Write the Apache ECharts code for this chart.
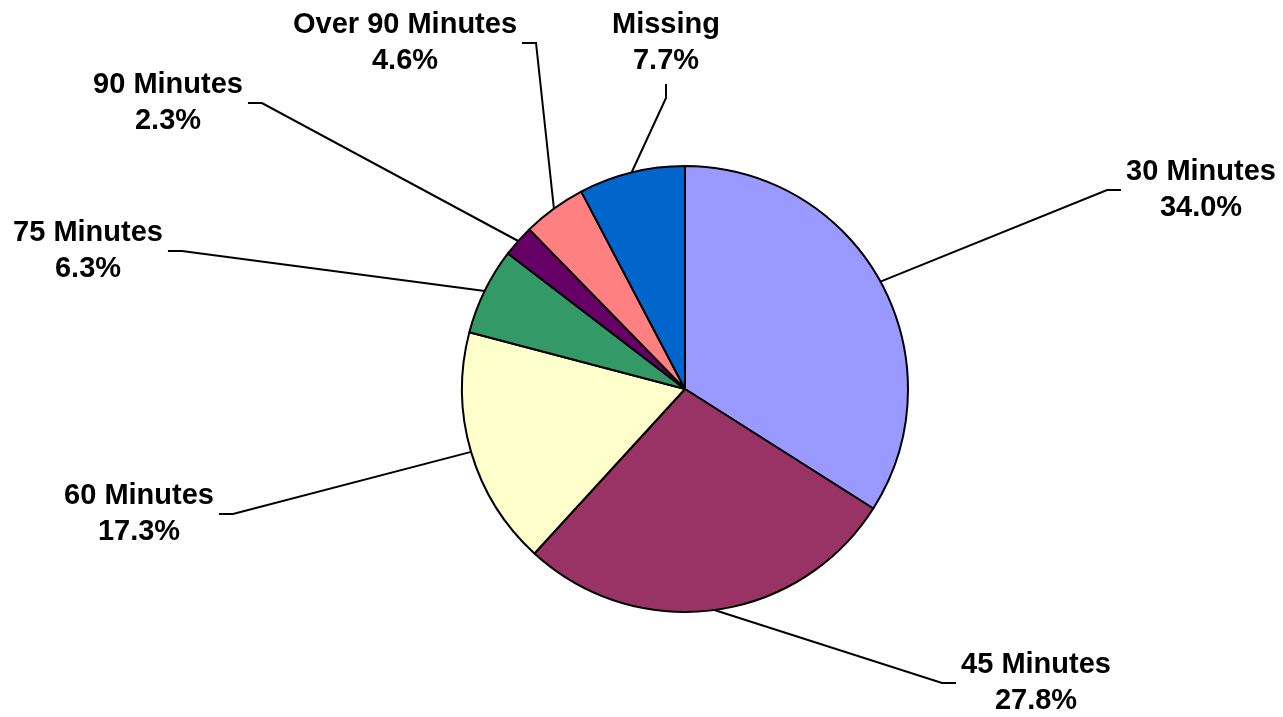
<!DOCTYPE html>
<html>
<head>
<meta charset="utf-8">
<script src="https://cdn.jsdelivr.net/npm/echarts@6/dist/echarts.min.js"></script>
<style>
  html, body { margin: 0; padding: 0; background: #ffffff; }
  #chart { width: 1283px; height: 717px; }
</style>
</head>
<body>
<div id="chart"></div>
<script>
// ---- data ----
const categories = ['30 Minutes', '45 Minutes', '60 Minutes', '75 Minutes', '90 Minutes', 'Over 90 Minutes', 'Missing'];
const percents = [34.0, 27.8, 17.3, 6.3, 2.3, 4.6, 7.7];

// ---- styles / layout ----
const sliceColors = ['#9999FF', '#993366', '#FFFFCC', '#339966', '#660066', '#FF8080', '#0066CC'];
// label block centres (layout only)
const labelCenters = [
  [1201, 190], [1036, 683], [139, 514], [88, 251], [168, 103], [405, 43], [666, 43]
];
const GAP = 5, SEG = 14;

const chart = echarts.init(document.getElementById('chart'), null, { renderer: 'canvas' });

const option = {
  backgroundColor: '#ffffff',
  animation: false,
  series: [{
    type: 'pie',
    center: [685, 389],
    radius: 223,
    startAngle: 90,
    clockwise: true,
    avoidLabelOverlap: false,
    emphasis: { disabled: true },
    itemStyle: { borderColor: '#000000', borderWidth: 2 },
    label: {
      show: true,
      position: 'outside',
      fontFamily: '"Liberation Sans", Arial, sans-serif',
      fontWeight: 'bold',
      fontSize: 29,
      lineHeight: 36,
      color: '#000000',
      formatter: function (p) {
        return '{a|' + p.name + '}\n{a|' + p.value.toFixed(1) + '%}';
      },
      rich: {
        a: {
          fontFamily: '"Liberation Sans", Arial, sans-serif',
          fontWeight: 'bold',
          fontSize: 29,
          lineHeight: 36,
          color: '#000000',
          align: 'center'
        }
      }
    },
    labelLine: {
      show: true,
      length: 20,
      length2: 14,
      lineStyle: { color: '#000000', width: 2 }
    },
    labelLayout: function (params) {
      const i = params.dataIndex;
      const c = labelCenters[i];
      const w = params.labelRect.width;
      const h = params.labelRect.height;
      const p0 = params.labelLinePoints ? params.labelLinePoints[0] : c;
      let end, elbow;
      if (p0[0] > c[0] - w / 2 && p0[0] < c[0] + w / 2) {
        end = [c[0], c[1] + h / 2 + GAP];
        elbow = [c[0], end[1] + SEG];
      } else if (p0[0] >= c[0] + w / 2) {
        end = [c[0] + w / 2 + GAP, c[1]];
        elbow = [end[0] + SEG, c[1]];
      } else {
        end = [c[0] - w / 2 - GAP, c[1]];
        elbow = [end[0] - SEG, c[1]];
      }
      return {
        x: c[0],
        y: c[1],
        align: 'center',
        verticalAlign: 'middle',
        labelLinePoints: [p0, elbow, end]
      };
    },
    data: categories.map(function (name, i) {
      return { name: name, value: percents[i], itemStyle: { color: sliceColors[i] } };
    })
  }]
};

chart.setOption(option);
</script>
</body>
</html>
